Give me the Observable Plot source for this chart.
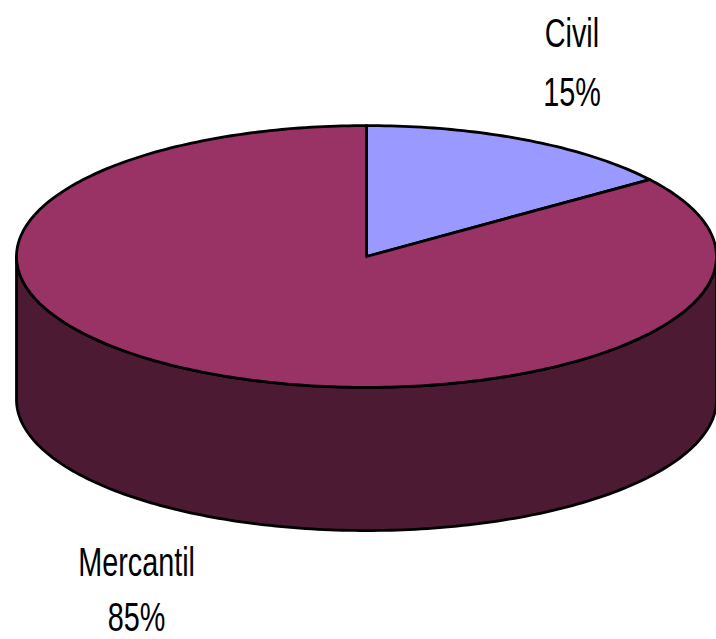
<!DOCTYPE html>
<html>
<head>
<meta charset="utf-8">
<script src="https://cdn.jsdelivr.net/npm/d3@7"></script>
<script src="https://cdn.jsdelivr.net/npm/@observablehq/plot@0.6"></script>
<style>
  html, body { margin: 0; padding: 0; background: #ffffff; }
  #chart svg { display: block; }
</style>
</head>
<body>
<div id="chart"></div>
<script>
// ---- data ----
const categories = ["Civil", "Mercantil"];
const shares = [15, 85];               // percent
const topColors = ["#9999FF", "#993366"];
const sideColors = ["#4D4D80", "#4D1A33"];
const pctLabels = ["15%", "85%"];

// ---- layout (chart units: 1 unit = pie x-radius) ----
const W = 716, H = 639;
const tilt = 0.374;     // vertical squash of the top ellipse
const depth = 0.409;    // thickness of the pie
const labelPos = {      // label centres in chart units
  Civil: {x: 0.587, y1: 0.634, y2: 0.468},
  Mercantil: {x: -0.657, y1: -0.875, y2: -1.032}
};

const total = d3.sum(shares);
const rad = (deg) => deg * Math.PI / 180;
const pt = (deg, off = 0) => ({x: Math.sin(rad(deg)), y: Math.cos(rad(deg)) * tilt - off});
function arc(a0, a1, off = 0) {
  const n = Math.max(2, Math.ceil(Math.abs(a1 - a0) / 1));
  return d3.range(n + 1).map(i => pt(a0 + (a1 - a0) * i / n, off));
}

// slices (clockwise from 12 o'clock)
let acc = 0;
const slices = categories.map((c, i) => {
  const a0 = acc / total * 360;
  acc += shares[i];
  const a1 = acc / total * 360;
  return {c, i, a0, a1};
});

const marks = [];
// side walls (front half: 90..270 degrees)
for (const s of slices) {
  const lo = Math.max(s.a0, 90), hi = Math.min(s.a1, 270);
  if (hi > lo) {
    const poly = [...arc(lo, hi), ...arc(hi, lo, depth)];
    poly.push(poly[0]);
    marks.push(Plot.line(poly, {x: "x", y: "y", fill: sideColors[s.i], stroke: "black", strokeWidth: 2.8, strokeLinejoin: "round"}));
  }
}
// top faces
for (const s of slices) {
  const poly = [{x: 0, y: 0}, ...arc(s.a0, s.a1), {x: 0, y: 0}];
  marks.push(Plot.line(poly, {x: "x", y: "y", fill: topColors[s.i], stroke: "black", strokeWidth: 2.8, strokeLinejoin: "round"}));
}
// labels
const labelRows = categories.flatMap((c, i) => [
  {text: c, x: labelPos[c].x, y: labelPos[c].y1},
  {text: pctLabels[i], x: labelPos[c].x, y: labelPos[c].y2}
]);
marks.push(Plot.text(labelRows, {
  x: "x", y: "y", text: "text", fontSize: 40, fill: "black",
  fontFamily: "Liberation Sans, Arial, sans-serif", textAnchor: "middle",
  className: "pie-label"
}));

const pxPerUnit = 350;
const cx = 366, cy = 256;
const chart = Plot.plot({
  width: W, height: H,
  margin: 0,
  x: {domain: [(0 - cx) / pxPerUnit, (W - cx) / pxPerUnit], range: [0, W], axis: null},
  y: {domain: [(cy - H) / pxPerUnit, cy / pxPerUnit], range: [H, 0], axis: null},
  style: {background: "white", overflow: "visible"},
  marks
});

// condense label glyphs horizontally like the original narrow font
chart.querySelectorAll(".pie-label text").forEach(t => {
  const tr = t.getAttribute("transform") || "";
  t.setAttribute("transform", tr + " scale(0.72,1)");
});

document.getElementById("chart").appendChild(chart);
</script>
</body>
</html>
